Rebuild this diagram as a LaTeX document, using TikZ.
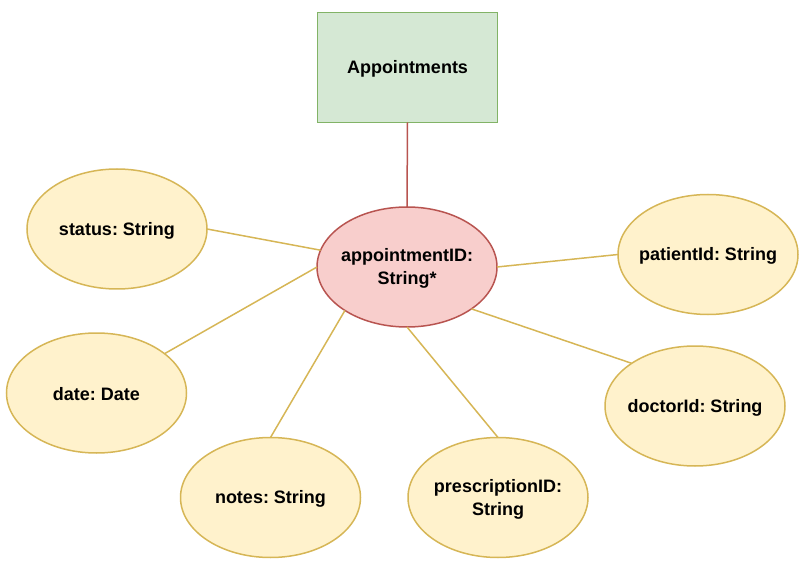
\documentclass[tikz,border=0pt]{standalone}
\usepackage{fontspec}
\setmainfont{Liberation Sans}
\frenchspacing
\usetikzlibrary{shapes.geometric}
\definecolor{gfill}{HTML}{D5E8D4}
\definecolor{gline}{HTML}{82B366}
\definecolor{rfill}{HTML}{F8CECC}
\definecolor{rline}{HTML}{B85450}
\definecolor{yfill}{HTML}{FFF2CC}
\definecolor{yline}{HTML}{D6B656}
\tikzset{
  lbl/.style={font=\bfseries\fontsize{18}{23}\selectfont, align=center, text=black, inner sep=0pt, yshift=-1.5pt},
  shapebase/.style={ellipse, line width=1.5pt, minimum width=180pt, minimum height=120pt, inner sep=0pt, outer sep=0pt},
  attr/.style={shapebase, draw=yline, fill=yfill, label={[lbl]center:#1}},
  keyattr/.style={shapebase, draw=rline, fill=rfill, label={[lbl]center:#1}},
  entity/.style={rectangle, draw=gline, fill=gfill, line width=1.5pt, minimum width=180pt, minimum height=110pt, inner sep=0pt, outer sep=0pt, label={[lbl]center:#1}},
  ylink/.style={draw=yline, line width=1.5pt},
  rlink/.style={draw=rline, line width=1.5pt}
}
\begin{document}
\begin{tikzpicture}[x=1pt,y=-1pt]
\useasboundingbox (0,0) rectangle (809,572);
\node[entity={Appointments}] (app) at (407.5,67.5) {};
\node[keyattr={appointmentID:\\String*}] (key) at (407,267) {};
\node[attr={status: String}] (status) at (117,229) {};
\node[attr={patientId: String}] (patient) at (708,254.5) {};
\node[attr={date: Date}] (date) at (96.5,393) {};
\node[attr={doctorId: String}] (doctor) at (695,406) {};
\node[attr={notes: String}] (notes) at (270.5,497.5) {};
\node[attr={prescriptionID:\\String}] (presc) at (498,497.5) {};
\draw[rlink] (app.south) -- (key.north);
\draw[ylink] (status.east) -- (key.169);
\draw[ylink] (date.30) -- (key.west);
\draw[ylink] (notes.north) -- (key.215);
\draw[ylink] (presc.north) -- (key.south);
\draw[ylink] (doctor.146) -- (key.327);
\draw[ylink] (patient.west) -- (key.east);
\end{tikzpicture}
\end{document}
